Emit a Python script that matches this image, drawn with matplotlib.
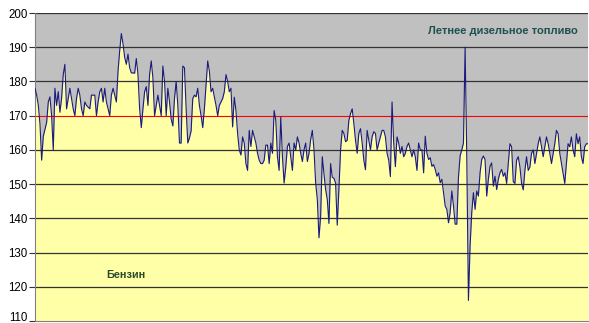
import numpy as np
import matplotlib
matplotlib.use('Agg')
import matplotlib.pyplot as plt

plt.rcParams['font.family'] = ['Liberation Sans', 'DejaVu Sans']

# значения цены (индекс по времени)
prices = [
    # отрезок 1
    178, 176, 173, 167.5, 157, 164, 166, 168, 174, 175.5,
    170, 160, 178, 173, 177, 171, 175, 182, 185, 172,
    175, 178, 175, 172, 170, 175, 178, 176, 172, 170,
    174, 173, 172.5, 172, 176, 176, 176, 170, 174, 177,
    178, 174, 178, 174, 172, 170, 176, 178, 176, 174,
    183, 189, 194, 191, 187, 185, 188, 184, 182.5, 182.5,
    # отрезок 2
    182.4, 186.7, 182, 172, 166.5, 172, 177, 178.5, 173, 182,
    186, 181, 170, 173, 176, 173, 170, 184.5, 180, 170,
    178, 174, 169, 167, 175, 180, 173, 162, 162, 184.5,
    184, 172, 162, 163.5, 165.5, 175, 176, 175.5, 178, 173,
    170, 166.5, 172, 179, 186, 183, 177, 178, 175.5, 173,
    170, 173, 174, 175, 177, 182, 180, 177, 178,
    # отрезок 3
    166.7, 175.4, 171.5, 164.8, 160, 158.5, 163.8, 162, 156, 154,
    165.7, 161, 165.7, 163.8, 162, 159, 157, 156, 156, 157,
    161.4, 161.4, 156, 162, 159, 171.5, 168.6, 158, 154, 169.6,
    158, 150.3, 155, 161, 162, 158, 154, 162, 160, 163.8,
    162, 159, 156.6, 160, 162, 156.6, 159, 163, 165.7, 160,
    150.3, 145.5, 134.3, 140.6, 158, 153,
    # отрезок 4
    148.4, 145.5, 138.5, 156, 152, 151.7, 150.3, 138, 148.4, 160,
    165.7, 164.8, 162.4, 162.8, 168.6, 170.6, 172, 167.7, 162.8, 159,
    164.8, 166.2, 162, 157, 154.2, 165.7, 162.8, 160, 163.8, 165.3,
    164.8, 160, 162, 163.8, 165.7, 165.7, 163.8, 159, 157, 152.2,
    174, 162, 155.1, 163.8, 162, 159, 161, 158, 159, 161,
    162, 160, 158, 160, 158, 154, 162, 160,
    # отрезок 5
    160, 153.3, 164, 159, 157.2, 157.7, 155.2, 155.7, 154.3, 152.3,
    153.3, 150.4, 151.4, 147.5, 143.6, 142.6, 138.7, 141.7, 148, 143.6,
    138.3, 138.3, 152, 158.3, 160, 162, 190, 158, 116, 132,
    141.7, 147.5, 142.6, 148, 146.5, 153.3, 157.2, 158.2, 157.2, 146.5,
    151.4, 155.2, 156.2, 149.4, 152.3, 148.4, 151.4, 153.3, 154.3, 152.3,
    153.3,
    # отрезок 6
    150.2, 156, 161.8, 160.9, 150.7, 150.2, 157, 158, 155, 150.2,
    148.3, 154, 158, 154, 155, 159, 160, 156, 159, 161.8,
    163.8, 160.9, 158, 160.9, 163.8, 161.8, 159, 156, 159, 161.8,
    165.7, 164.7, 159, 156, 153.1, 150.2, 156, 161.8, 160.9, 163.8,
    160, 158, 164.7, 161.8, 163.8, 158, 156, 160.9, 161.8, 161.8,
]
y_ticks = [110, 120, 130, 140, 150, 160, 170, 180, 190, 200]
limit_level = 170
label_diesel = 'Летнее дизельное топливо'
label_petrol = 'Бензин'

x = np.arange(len(prices))
y_min, y_max = 110, 200

fig = plt.figure(figsize=(5.89, 3.23), dpi=100)
ax = fig.add_axes([35 / 589, 2 / 323, 553 / 589, 308 / 323])

ax.set_facecolor('#c0c0c0')
ax.fill_between(x, y_min, prices, color='#ffffa8', lw=0, zorder=1)

for t in y_ticks[1:]:
    if t == limit_level:
        continue
    ax.axhline(t, color='#333333', lw=0.9, zorder=2)
ax.axhline(limit_level, color='#ff0000', lw=0.8, zorder=2)

ax.plot(x, prices, color='#1a1a80', lw=0.8, zorder=3)

ax.set_xlim(0, len(prices) - 1)
ax.set_ylim(y_min, y_max)
ax.set_yticks(y_ticks)
ax.set_xticks([])
ax.tick_params(axis='y', labelsize=8.3, length=4, width=0.8, pad=1.5,
               color='#333333')
# нижняя подпись чуть выше, чтобы не обрезалась
ax.get_yticklabels()[0].set_va('baseline')

for side in ['top', 'right']:
    ax.spines[side].set_visible(False)
ax.spines['left'].set_color('#808080')
ax.spines['bottom'].set_color('#808080')

ax.text(0.982, 0.941, label_diesel, transform=ax.transAxes, ha='right',
        va='center', fontsize=8, fontweight='bold', color='#1f5050')
ax.text(0.165, 0.148, label_petrol, transform=ax.transAxes, ha='center',
        va='center', fontsize=7.8, fontweight='bold', color='#2a4a2a')

fig.savefig('out.png', dpi=100)
